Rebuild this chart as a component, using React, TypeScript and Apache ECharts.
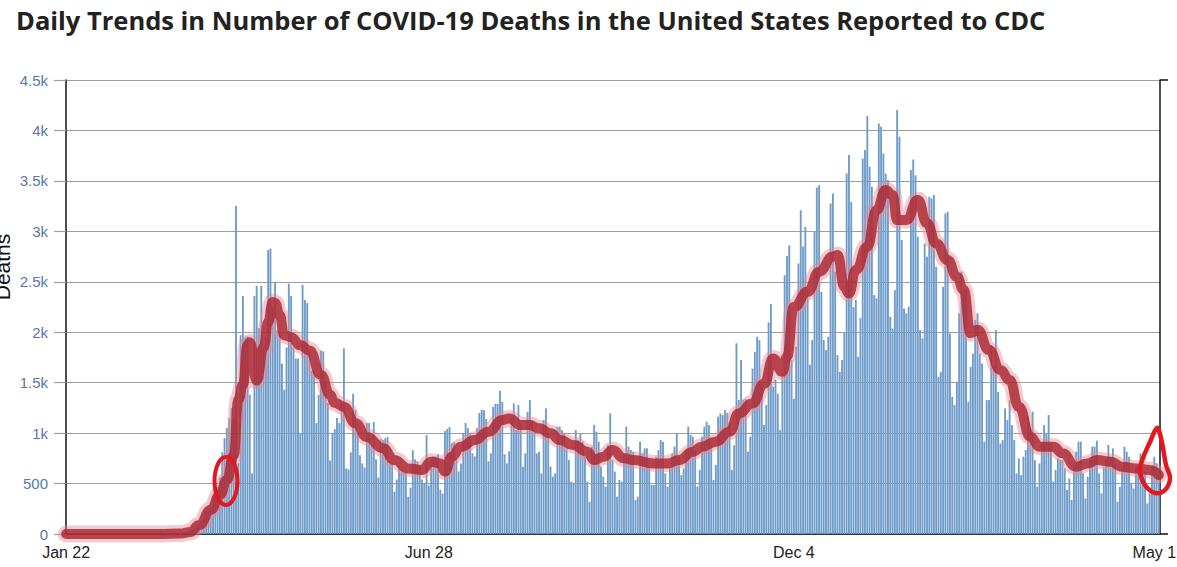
import { useEffect, useRef } from "react";
import * as echarts from "echarts";

// 日次死亡数（2020-01-22 〜 2021-05-12、477日）と手描き風トレンド線
const TITLE = "Daily Trends in Number of COVID-19 Deaths in the United States Reported to CDC";
const MONTHS = ["Jan", "Feb", "Mar", "Apr", "May", "Jun", "Jul", "Aug", "Sep", "Oct", "Nov", "Dec"];
const START_UTC = Date.UTC(2020, 0, 22);
const DAY_MS = 86400000;

const dailyDeaths = [
  0, 0, 0, 0, 0, 0, 0, 0, 0, 0,
  0, 0, 0, 0, 0, 0, 0, 0, 0, 0,
  0, 0, 0, 0, 0, 0, 0, 0, 0, 0,
  0, 0, 0, 0, 0, 0, 0, 0, 1, 0,
  1, 1, 2, 3, 2, 4, 3, 6, 7, 9,
  12, 14, 20, 24, 33, 46, 55, 78, 100, 130,
  160, 230, 250, 270, 380, 430, 470, 560, 810, 950,
  1050, 1150, 1250, 1160, 3250, 700, 1970, 2360, 1950, 1960,
  1380, 600, 2360, 2460, 2040, 2460, 1850, 1950, 2815, 2830,
  2250, 2500, 2020, 2020, 1690, 1430, 1850, 2480, 2360, 1850,
  1740, 1740, 1000, 2470, 2320, 2290, 1820, 1620, 1620, 1100,
  1380, 1820, 1810, 1520, 1300, 730, 1000, 1040, 1150, 1100,
  1300, 1840, 650, 640, 810, 1390, 1230, 1000, 780, 700,
  660, 1100, 1100, 900, 1110, 740, 560, 940, 930, 950,
  960, 720, 700, 420, 540, 670, 640, 620, 610, 370,
  460, 830, 740, 720, 670, 540, 500, 980, 480, 740,
  770, 770, 790, 440, 400, 1020, 1040, 1060, 900, 910,
  740, 620, 700, 1000, 1100, 1050, 1000, 800, 770, 1050,
  1200, 1230, 1230, 1140, 720, 800, 1260, 1290, 1290, 1420,
  1310, 790, 700, 820, 1150, 1295, 1031, 1278, 1097, 667,
  799, 1212, 1328, 1130, 1031, 799, 816, 601, 1130, 1245,
  998, 667, 568, 601, 1064, 1064, 1031, 998, 866, 733,
  519, 502, 1031, 932, 998, 915, 766, 519, 320, 866,
  1080, 1014, 915, 667, 568, 469, 882, 1195, 733, 618,
  370, 535, 519, 799, 1064, 866, 833, 816, 337, 370,
  915, 799, 849, 849, 667, 486, 486, 766, 833, 932,
  915, 601, 469, 667, 799, 866, 998, 766, 585, 651,
  833, 1064, 981, 965, 833, 469, 634, 965, 1064, 1113,
  1080, 899, 535, 684, 1163, 1195, 1179, 1229, 1200, 1100,
  634, 880, 1890, 1328, 1724, 1328, 1340, 816, 965, 1640,
  1806, 1955, 1922, 1480, 1080, 1280, 2098, 2280, 1460, 1530,
  1390, 1030, 1590, 2565, 2755, 2860, 1724, 1340, 1855, 2680,
  3210, 2850, 3045, 2420, 1677, 1922, 2996, 3435, 3458, 2400,
  1922, 1823, 1955, 3277, 3376, 2600, 1773, 1607, 1724, 1996,
  3574, 3756, 3290, 2250, 2320, 1757, 2140, 3723, 3806, 4143,
  3640, 3442, 2368, 2335, 4070, 4037, 3772, 3574, 3508, 2154,
  2038, 2418, 4202, 3938, 2913, 2236, 2187, 2253, 3607, 3713,
  3557, 2946, 2021, 1939, 2880, 2748, 3343, 3326, 3359, 2649,
  1559, 1608, 2451, 3178, 3194, 1988, 1360, 1278, 1509, 2187,
  2600, 2418, 2418, 1311, 1658, 1788, 2121, 2187, 1788, 1690,
  914, 1327, 1327, 1873, 1658, 2021, 1410, 898, 931, 1245,
  1129, 1327, 1080, 931, 600, 749, 585, 766, 833, 1164,
  1050, 1213, 733, 469, 700, 900, 1080, 998, 1179, 899,
  519, 634, 750, 733, 733, 650, 436, 550, 337, 667,
  816, 915, 915, 601, 353, 568, 733, 866, 866, 925,
  601, 403, 667, 733, 882, 766, 849, 700, 320, 469,
  651, 866, 816, 766, 502, 452, 667, 684, 799, 601,
  618, 304, 403, 667, 766, 700, 600,
];

// トレンド線（マーカーで描かれた赤線）の読み取り点：日インデックスと値
const trendDay = [
  0, 20, 40, 50, 54, 58, 63, 67, 70, 73,
  75, 77, 79, 80, 83, 86, 88, 90, 91, 93,
  95, 98, 102, 106, 111, 115, 117, 121, 126, 131,
  138, 143, 149, 155, 159, 163, 165, 168, 172, 178,
  184, 190, 193, 198, 202, 206, 211, 215, 221, 227,
  230, 234, 238, 243, 247, 256, 262, 267, 273, 277,
  283, 289, 293, 299, 304, 308, 312, 314, 317, 323,
  328, 334, 336, 339, 341, 344, 349, 353, 357, 360,
  362, 366, 371, 375, 379, 384, 388, 391, 394, 397,
  402, 407, 411, 415, 420, 424, 430, 434, 440, 445,
  449, 455, 460, 466, 472, 476,
];
const trendValue = [
  0, 0, 0, 5, 20, 90, 240, 390, 535, 780,
  1330, 1480, 1870, 1900, 1520, 1850, 2100, 2300, 2290, 2170,
  1970, 1950, 1870, 1820, 1575, 1380, 1300, 1260, 1097, 962,
  850, 733, 650, 634, 716, 700, 618, 766, 866, 932,
  1014, 1130, 1146, 1080, 1080, 1047, 998, 932, 882, 816,
  733, 766, 833, 750, 733, 700, 700, 733, 816, 866,
  915, 1014, 1195, 1295, 1490, 1740, 1608, 1757, 2250, 2400,
  2600, 2750, 2766, 2451, 2385, 2616, 2847, 3210, 3409, 3360,
  3112, 3112, 3310, 3080, 2880, 2715, 2550, 2418, 1990, 2025,
  1823, 1625, 1526, 1262, 965, 866, 866, 800, 667, 700,
  733, 716, 667, 650, 634, 585,
];

const TICK_DAYS = [0, 158, 317, 476];

const dayLabels = dailyDeaths.map((_, i) => {
  const d = new Date(START_UTC + i * DAY_MS);
  return `${MONTHS[d.getUTCMonth()]} ${d.getUTCDate()}`;
});

const BAR_BLUE = "#6f9cc9";
const LABEL_BLUE = "#5779a8";
const GRID_GRAY = "#9d9d9d";
const AXIS_BLACK = "#111111";
const MARKER_RED = "#e3171f";
const FONT = "'Liberation Sans', Arial, sans-serif";

const yLabel = (v: number) => (v < 1000 ? String(v) : `${v / 1000}k`);

export default function App() {
  const ref = useRef<HTMLDivElement>(null);

  useEffect(() => {
    document.body.style.margin = "0";
    if (!ref.current) return;
    const chart = echarts.init(ref.current, undefined, { renderer: "svg" });
    const showTick = (i: number) => TICK_DAYS.includes(i);
    const trendData = trendDay.map((d, k) => [d, trendValue[k]]);

    chart.setOption({
      animation: false,
      backgroundColor: "#ffffff",
      title: {
        text: TITLE,
        left: 16,
        top: 7,
        padding: 0,
        textStyle: { fontFamily: "'Open Sans', sans-serif", fontWeight: 700, fontSize: 25.5, color: "#222222" },
      },
      grid: { left: 65, right: 17, top: 80, bottom: 33, outerBoundsMode: "none" },
      xAxis: [
        {
          type: "category",
          data: dayLabels,
          boundaryGap: true,
          axisLine: { lineStyle: { color: AXIS_BLACK, width: 1.5 } },
          axisTick: { alignWithLabel: true, interval: showTick, length: 7, lineStyle: { color: "#333333", width: 1.5 } },
          axisLabel: { interval: showTick, color: "#222222", fontFamily: FONT, fontSize: 16, margin: 10 },
          splitLine: { show: false },
        },
        { type: "value", min: -0.5, max: dailyDeaths.length - 0.5, show: false },
      ],
      yAxis: [
        {
          type: "value",
          min: 0,
          max: 4500,
          interval: 500,
          axisLine: { show: true, lineStyle: { color: AXIS_BLACK, width: 1.5 } },
          axisTick: { show: true, length: 12, lineStyle: { color: GRID_GRAY, width: 1.2 } },
          axisLabel: { color: LABEL_BLUE, fontFamily: FONT, fontSize: 15, margin: 17, formatter: yLabel },
          splitLine: { lineStyle: { color: GRID_GRAY, width: 1.2 } },
        },
        {
          type: "value",
          position: "right",
          min: 0,
          max: 4500,
          interval: 4500,
          axisLine: { show: true, lineStyle: { color: AXIS_BLACK, width: 1.5 } },
          axisTick: { show: true, length: 8, lineStyle: { color: AXIS_BLACK, width: 1.5 } },
          axisLabel: { show: false },
          splitLine: { show: false },
        },
      ],
      series: [
        {
          name: "Deaths",
          type: "bar",
          data: dailyDeaths,
          barCategoryGap: "18%",
          itemStyle: { color: BAR_BLUE },
          silent: true,
        },
        {
          type: "line",
          xAxisIndex: 1,
          data: trendData,
          smooth: 0.5,
          smoothMonotone: "x",
          showSymbol: false,
          clip: false,
          silent: true,
          z: 3,
          lineStyle: { color: "rgba(226,140,150,0.45)", width: 17, cap: "round", join: "round" },
        },
        {
          type: "line",
          xAxisIndex: 1,
          data: trendData,
          smooth: 0.5,
          smoothMonotone: "x",
          showSymbol: false,
          clip: false,
          silent: true,
          z: 4,
          lineStyle: { color: "rgba(172,36,48,0.82)", width: 10, cap: "round", join: "round" },
        },
      ],
      graphic: [
        {
          type: "text",
          x: 2,
          y: 267,
          rotation: Math.PI / 2,
          style: {
            text: "Deaths",
            fontFamily: FONT,
            fontSize: 21,
            fill: "#111111",
            align: "center",
            verticalAlign: "middle",
          },
        },
        {
          type: "ellipse",
          z: 100,
          shape: { cx: 226, cy: 481, rx: 11.5, ry: 24 },
          style: { fill: "none", stroke: MARKER_RED, lineWidth: 4 },
        },
        {
          type: "polygon",
          z: 100,
          shape: {
            points: [
              [1157, 428], [1150, 442], [1143, 458], [1140, 471], [1145, 485],
              [1155, 493], [1165, 490], [1170, 478], [1166, 465], [1163, 448], [1160, 434],
            ],
            smooth: 0.4,
          },
          style: { fill: "none", stroke: MARKER_RED, lineWidth: 4.5 },
        },
      ],
    });

    return () => chart.dispose();
  }, []);

  return <div ref={ref} style={{ width: 1177, height: 567 }} />;
}
